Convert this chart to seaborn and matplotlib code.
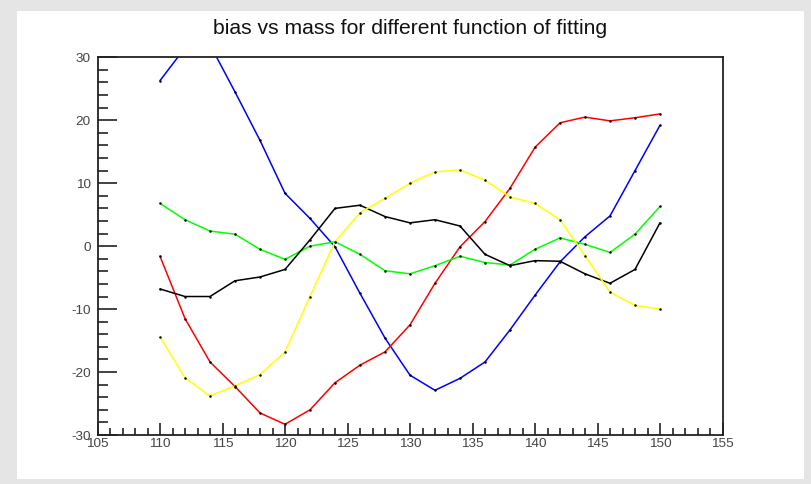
import numpy as np
import pandas as pd
import matplotlib
matplotlib.use("Agg")
import matplotlib.pyplot as plt
import seaborn as sns
from matplotlib.patches import Rectangle
from matplotlib.ticker import MultipleLocator

mass = [110, 112, 114, 116, 118, 120, 122, 124, 126, 128, 130,
        132, 134, 136, 138, 140, 142, 144, 146, 148, 150]

bias_blue = [26.3, 31.5, 32.0, 24.5, 16.8, 8.4, 4.4, -0.1, -7.5, -14.6, -20.5,
             -22.9, -21.0, -18.4, -13.3, -7.8, -2.5, 1.5, 4.8, 12.0, 19.2]
bias_red = [-1.6, -11.5, -18.4, -22.3, -26.5, -28.3, -26.0, -21.7, -18.9, -16.8, -12.5,
            -5.9, -0.1, 3.9, 9.2, 15.7, 19.6, 20.5, 19.9, 20.4, 21.0]
bias_green = [6.8, 4.2, 2.4, 1.9, -0.5, -2.1, 0.0, 0.7, -1.3, -3.9, -4.4,
              -3.1, -1.6, -2.6, -3.0, -0.5, 1.3, 0.3, -1.0, 1.9, 6.3]
bias_black = [-6.8, -8.0, -8.0, -5.5, -4.9, -3.7, 1.0, 6.0, 6.5, 4.7, 3.7,
              4.2, 3.2, -1.3, -3.1, -2.3, -2.4, -4.4, -5.9, -3.7, 3.7]
bias_yellow = [-14.4, -20.9, -23.8, -22.2, -20.4, -16.8, -8.0, 0.7, 5.3, 7.6, 10.0,
               11.8, 12.1, 10.5, 7.8, 6.8, 4.2, -1.5, -7.3, -9.4, -10.0]

functions = ["f1", "f2", "f3", "f4", "f5"]
series = [bias_blue, bias_red, bias_green, bias_black, bias_yellow]
colors = {"f1": "#0000ff", "f2": "#ff0000", "f3": "#00ff00", "f4": "#000000", "f5": "#ffff00"}

title = "bias vs mass for different function of fitting"
xticks = [105, 110, 115, 120, 125, 130, 135, 140, 145, 150, 155]
yticks = [-30, -20, -10, 0, 10, 20, 30]

df = pd.concat([pd.DataFrame({"mass": mass, "bias": s, "function": f})
                for f, s in zip(functions, series)], ignore_index=True)

sns.set_style("white")
plt.rcParams['font.family'] = ['Liberation Sans', 'DejaVu Sans']

fig = plt.figure(figsize=(8.11, 4.84), dpi=100)
fig.patch.set_facecolor("#e5e5e5")
fig.patches.append(Rectangle((17 / 811, 1 - 479 / 484), (804 - 17) / 811, (479 - 11) / 484,
                             transform=fig.transFigure, facecolor="white",
                             edgecolor="none", zorder=-10))

ax = fig.add_axes([97.5 / 811, 49 / 484, 625 / 811, 377.7 / 484])
ax.set_zorder(5)
ax.set_facecolor("white")

for f in functions:
    sub = df[df["function"] == f]
    sns.lineplot(data=sub, x="mass", y="bias", ax=ax, color=colors[f],
                 estimator=None, sort=False, linewidth=1.1,
                 marker="o", markersize=1.8, markerfacecolor="black",
                 markeredgecolor="black", markeredgewidth=0)

ax.set_xlim(105, 155)
ax.set_ylim(-30, 30)
ax.set_xticks(xticks)
ax.set_yticks(yticks)
ax.set_xticklabels([str(t) for t in xticks])
ax.set_yticklabels([str(t) for t in yticks])
ax.xaxis.set_minor_locator(MultipleLocator(1))
ax.yaxis.set_minor_locator(MultipleLocator(2))
ax.set_xlabel("")
ax.set_ylabel("")

ax.tick_params(axis="y", which="major", direction="in", length=13.5, width=1.2,
               color="#222222", labelsize=9.7, labelcolor="#444444", pad=5,
               left=True, right=False)
ax.tick_params(axis="y", which="minor", direction="in", length=7.5, width=1.2,
               color="#222222", left=True, right=False)
ax.tick_params(axis="x", which="major", direction="in", length=8.6, width=1.2,
               color="#222222", labelsize=9.7, labelcolor="#444444", pad=2.5,
               bottom=True, top=False)
ax.tick_params(axis="x", which="minor", direction="in", length=5.2, width=1.2,
               color="#222222", bottom=True, top=False)

for sp in ax.spines.values():
    sp.set_visible(True)
    sp.set_color("#222222")
    sp.set_linewidth(1.3)

fig.text(410 / 811, 1 - 28.7 / 484, title, ha="center", va="center",
         fontsize=15.2, color="#111111", zorder=6)

fig.savefig("out.png", dpi=100, facecolor=fig.get_facecolor())
